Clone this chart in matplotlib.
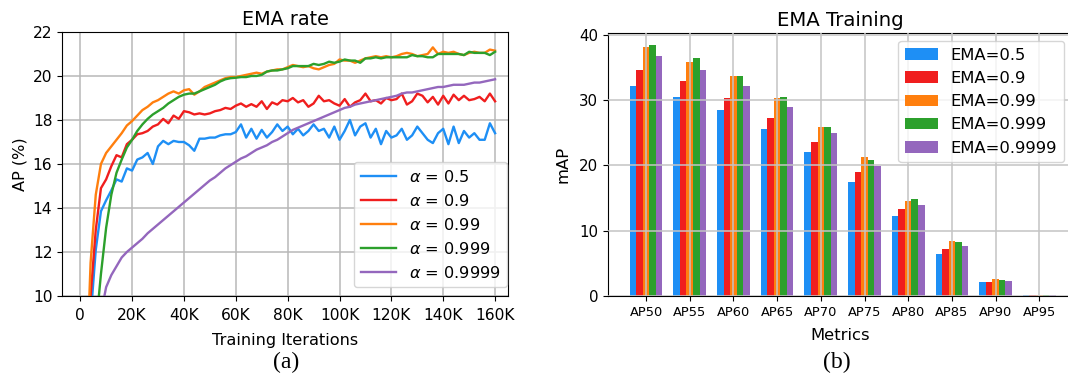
import numpy as np
import matplotlib
matplotlib.use("Agg")
import matplotlib.pyplot as plt

# ---- (a) EMA rate: AP vs training iterations, one value every 2K iters ----
iters = np.arange(2000, 162000, 2000)

ap_05 = [4.0, 9.0, 12.1, 13.85, 14.35, 14.8, 15.3, 15.2, 15.8, 15.7,
         16.2, 16.3, 16.5, 16.0, 16.8, 17.05, 16.9, 17.05, 17.0, 17.0,
         16.85, 16.6, 17.15, 17.15, 17.2, 17.2, 17.3, 17.35, 17.35, 17.45,
         17.8, 17.2, 17.6, 17.15, 17.55, 17.2, 17.45, 17.8, 17.5, 17.7,
         17.35, 17.6, 17.3, 17.5, 17.8, 17.5, 17.6, 17.2, 17.7, 17.1,
         17.5, 18.0, 17.3, 17.7, 17.85, 17.2, 17.6, 16.9, 17.5, 17.2,
         17.3, 17.6, 17.1, 17.3, 17.7, 17.4, 17.1, 16.95, 17.4, 17.6,
         16.9, 17.7, 16.95, 17.5, 17.2, 17.4, 17.1, 17.1, 17.85, 17.4]

ap_09 = [4.5, 10.0, 13.0, 14.9, 15.3, 15.9, 16.4, 16.3, 16.9, 17.1,
         17.35, 17.4, 17.5, 17.7, 17.8, 18.05, 17.85, 18.2, 18.05, 18.4,
         18.35, 18.25, 18.3, 18.25, 18.3, 18.4, 18.45, 18.55, 18.5, 18.65,
         18.75, 18.6, 18.72, 18.6, 18.85, 18.5, 18.8, 18.7, 18.9, 18.85,
         19.0, 18.8, 18.9, 18.6, 18.75, 19.1, 18.85, 18.9, 18.75, 18.65,
         18.95, 18.6, 18.8, 18.9, 19.2, 18.85, 18.9, 18.75, 19.0, 18.9,
         18.95, 19.2, 18.7, 18.85, 19.2, 19.1, 18.8, 19.05, 18.7, 19.1,
         18.75, 19.15, 18.9, 19.1, 18.9, 18.95, 19.05, 18.85, 19.2, 18.85]

ap_099 = [5.0, 11.5, 14.6, 16.0, 16.5, 16.8, 17.1, 17.4, 17.75, 17.95,
          18.2, 18.45, 18.6, 18.8, 18.9, 19.05, 19.2, 19.3, 19.2, 19.35,
          19.4, 19.15, 19.3, 19.5, 19.6, 19.7, 19.8, 19.9, 19.95, 19.95,
          20.0, 20.05, 20.1, 20.15, 20.1, 20.2, 20.25, 20.3, 20.3, 20.4,
          20.5, 20.45, 20.4, 20.45, 20.35, 20.3, 20.4, 20.5, 20.55, 20.75,
          20.7, 20.7, 20.6, 20.7, 20.8, 20.85, 20.9, 20.85, 20.9, 20.85,
          20.9, 21.0, 21.05, 21.0, 20.9, 20.95, 21.0, 21.3, 21.0, 21.1,
          21.05, 21.1, 21.0, 20.95, 21.05, 21.1, 21.05, 21.05, 21.2, 21.15]

ap_0999 = [2.0, 5.0, 8.5, 11.0, 13.1, 14.6, 15.6, 16.2, 16.75, 17.1,
           17.5, 17.8, 18.05, 18.25, 18.4, 18.55, 18.75, 18.9, 19.05, 19.15,
           19.2, 19.2, 19.3, 19.4, 19.5, 19.6, 19.75, 19.85, 19.9, 19.92,
           19.95, 19.95, 20.0, 20.0, 20.05, 20.2, 20.25, 20.25, 20.3, 20.35,
           20.45, 20.45, 20.45, 20.45, 20.55, 20.5, 20.55, 20.65, 20.6, 20.65,
           20.75, 20.7, 20.7, 20.6, 20.8, 20.8, 20.85, 20.8, 20.85, 20.85,
           20.85, 20.85, 20.85, 20.95, 20.9, 20.9, 20.85, 20.85, 21.0, 21.0,
           21.0, 21.0, 21.0, 20.95, 21.1, 21.05, 21.05, 21.05, 20.95, 21.1]

ap_09999 = [5.0, 6.6, 8.0, 9.2, 10.4, 10.95, 11.35, 11.75, 12.0, 12.2,
            12.4, 12.6, 12.85, 13.05, 13.25, 13.45, 13.65, 13.85, 14.05, 14.25,
            14.45, 14.65, 14.85, 15.05, 15.25, 15.4, 15.6, 15.8, 15.95, 16.1,
            16.25, 16.35, 16.5, 16.65, 16.75, 16.85, 17.0, 17.1, 17.25, 17.4,
            17.55, 17.65, 17.75, 17.85, 17.95, 18.05, 18.15, 18.25, 18.35, 18.45,
            18.55, 18.6, 18.7, 18.75, 18.8, 18.85, 18.9, 18.95, 19.0, 19.05,
            19.1, 19.2, 19.25, 19.25, 19.3, 19.35, 19.4, 19.45, 19.5, 19.5,
            19.55, 19.6, 19.6, 19.6, 19.65, 19.7, 19.7, 19.75, 19.8, 19.85]

alphas = ["0.5", "0.9", "0.99", "0.999", "0.9999"]

# ---- (b) EMA Training: mAP per metric ----
metrics = ["AP50", "AP55", "AP60", "AP65", "AP70", "AP75", "AP80", "AP85", "AP90", "AP95"]
map_05 = [32.1, 30.5, 28.5, 25.6, 22.1, 17.5, 12.3, 6.5, 2.1, 0.2]
map_09 = [34.7, 32.9, 30.3, 27.3, 23.6, 19.0, 13.4, 7.15, 2.1, 0.2]
map_099 = [38.2, 35.9, 33.7, 30.3, 25.9, 21.3, 14.6, 8.4, 2.6, 0.2]
map_0999 = [38.4, 36.4, 33.7, 30.5, 25.9, 20.9, 14.9, 8.2, 2.4, 0.2]
map_09999 = [36.7, 34.7, 32.1, 28.9, 25.0, 19.95, 14.0, 7.6, 2.3, 0.2]

colors = ["#1e8ff5", "#f01e1e", "#ff7f0e", "#2ca02c", "#9467bd"]

fig = plt.figure(figsize=(10.68, 3.74), dpi=100)
ax1 = fig.add_axes([0.0581, 0.2086, 0.4176, 0.7059])
ax2 = fig.add_axes([0.5693, 0.2086, 0.4345, 0.7032])

# left panel
curves = [ap_05, ap_09, ap_099, ap_0999, ap_09999]
for vals, a, c in zip(curves, alphas, colors):
    ax1.plot(iters, vals, color=c, lw=1.7, label=r"$\alpha$ = " + a)
ax1.set_xlim(-7000, 165000)
ax1.set_ylim(10, 22)
ax1.set_yticks(range(10, 23, 2))
ax1.set_xticks(range(0, 160001, 20000))
ax1.set_xticklabels(["0"] + ["%dK" % k for k in range(20, 161, 20)])
ax1.grid(True, color="#b8b8b8", lw=1.1)
ax1.tick_params(labelsize=11.2)
ax1.tick_params(axis="x", pad=5)
ax1.set_title("EMA rate", fontsize=13.8, pad=5)
ax1.set_xlabel("Training Iterations", fontsize=11.6, labelpad=7)
ax1.set_ylabel("AP (%)", fontsize=11.6, labelpad=4)
ax1.legend(loc="lower right", bbox_to_anchor=(0.998, 0.033), borderaxespad=0,
           fontsize=11.6, handlelength=2.2)

# right panel
x = np.arange(len(metrics))
w = 0.15
series = [map_05, map_09, map_099, map_0999, map_09999]
for i, (vals, a, c) in enumerate(zip(series, alphas, colors)):
    ax2.bar(x + (i - 2) * w, vals, width=w, color=c, label="EMA=" + a)
ax2.set_axisbelow(False)
ax2.grid(True, color="#c4c4c4", lw=1.1)
ax2.set_xticks(x)
ax2.set_xticklabels(metrics, fontsize=9.4)
ax2.tick_params(axis="y", labelsize=10.8)
ax2.tick_params(axis="x", pad=4)
ax2.set_xlim(-0.87, 9.75)
ax2.set_ylim(0, 40.3)
ax2.set_yticks(range(0, 41, 10))
ax2.set_title("EMA Training", fontsize=14.2, pad=5)
ax2.set_xlabel("Metrics", fontsize=11.8, labelpad=6)
ax2.set_ylabel("mAP", fontsize=11.8, labelpad=6)
ax2.legend(loc="upper right", fontsize=11.8)

fig.text(0.268, 0.032, "(a)", family="Liberation Serif", fontsize=17, ha="center", va="center")
fig.text(0.784, 0.032, "(b)", family="Liberation Serif", fontsize=17, ha="center", va="center")

fig.savefig("out.png", dpi=100)
